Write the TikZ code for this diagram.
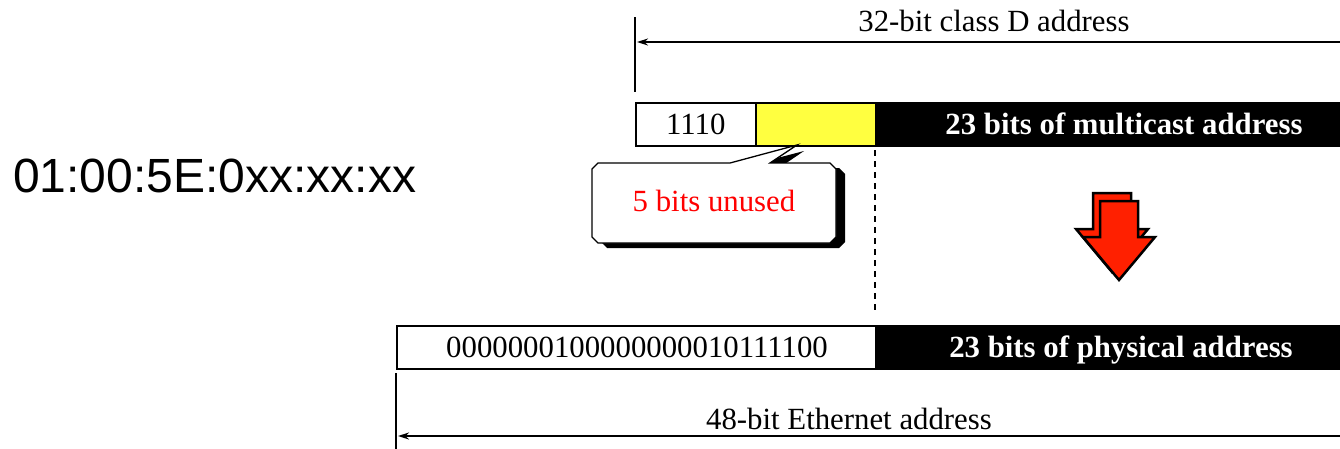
\documentclass[tikz,border=0pt]{standalone}
\usepackage{fontspec}
\setmainfont{Liberation Serif}
\newfontfamily\macfont{Liberation Sans}
\usetikzlibrary{arrows.meta}
\begin{document}
\begin{tikzpicture}[x=1pt,y=-1pt,
  lbl/.style={font=\fontsize{30.8}{36}\selectfont, inner sep=0pt, text height=21pt, text depth=0pt},
  blbl/.style={lbl, font=\fontsize{30.8}{36}\selectfont\bfseries, text=white},
  field/.style={draw=black, line width=1.5pt, minimum height=43pt, inner sep=0pt, anchor=north west},
  dim/.style={line width=1.6pt, -{Stealth[length=11pt,width=7pt]}},
  tickline/.style={line width=1.6pt},
  blockarrow/.style={fill={rgb,255:red,255;green,32;blue,0}, draw=black, line width=2.5pt, line join=miter}]
\useasboundingbox (0,0) rectangle (1340,448);

% left MAC pattern
\node[font=\macfont\fontsize{48}{52}\selectfont, anchor=west, inner sep=0pt] (mac) at (13,176) {01:00:5E:0xx:xx:xx};

% top dimension
\coordinate (ttop) at (635,17);
\coordinate (tbot) at (635,92);
\coordinate (tright) at (1342,42);
\coordinate (tleft) at (637,42);
\draw[tickline] (ttop) -- (tbot);
\draw[dim] (tright) -- (tleft);
\node[lbl] (tlabel) at (994,21) {32-bit class D address};

% top fields
\node[field, fill=white, minimum width=120pt] (f1) at (635,102) {};
\node[field, fill={rgb,255:red,255;green,255;blue,64}, minimum width=120pt] (f2) at (755,102) {};
\node[field, fill=black, minimum width=470pt] (f3) at (875,102) {};
\node[lbl] (t1) at (f1.center) {1110};
\node[blbl] (t3) at (1124,123.5) {23 bits of multicast address};

% callout shadow
\fill[black] (607,168) -- (739,168) -- (804,151) -- (779,168) -- (839,168) -- (845,174) -- (845,242) -- (839,248) -- (607,248) -- (601,242) -- (601,174) -- cycle;
% callout
\filldraw[fill=white, draw=black, line width=1.3pt, line join=miter] (598,163) -- (730,163) -- (797,145) -- (770,163) -- (830,163) -- (836,169) -- (836,237) -- (830,243) -- (598,243) -- (592,237) -- (592,169) -- cycle;
\node[lbl, text=red] (unused) at (714,201) {5 bits unused};

% dashed guide
\coordinate (dtop) at (875,150);
\coordinate (dbot) at (875,312);
\draw[line width=1.5pt, dash pattern=on 6pt off 5pt] (dtop) -- (dbot);

% red block arrow (3D)
\path[blockarrow] (1093,193) -- (1131,193) -- (1131,229) -- (1148,229) -- (1112,272) -- (1076,229) -- (1093,229) -- cycle;
\path[blockarrow] (1100,201) -- (1138,201) -- (1138,237) -- (1155,237) -- (1119,280) -- (1083,237) -- (1100,237) -- cycle;

% bottom fields
\node[field, fill=white, minimum width=479pt] (g1) at (396,325) {};
\node[field, fill=black, minimum width=470pt] (g2) at (875,325) {};
\node[lbl] (b1) at (637,346.5) {0000000100000000010111100};
\node[blbl] (b2) at (1121,346.5) {23 bits of physical address};

% bottom dimension
\coordinate (btop) at (396,373);
\coordinate (bbot) at (396,450);
\coordinate (bright) at (1342,436);
\coordinate (bleft) at (398,436);
\draw[tickline] (btop) -- (bbot);
\draw[dim] (bright) -- (bleft);
\node[lbl] (blabel) at (849,419) {48-bit Ethernet address};
\end{tikzpicture}
\end{document}
